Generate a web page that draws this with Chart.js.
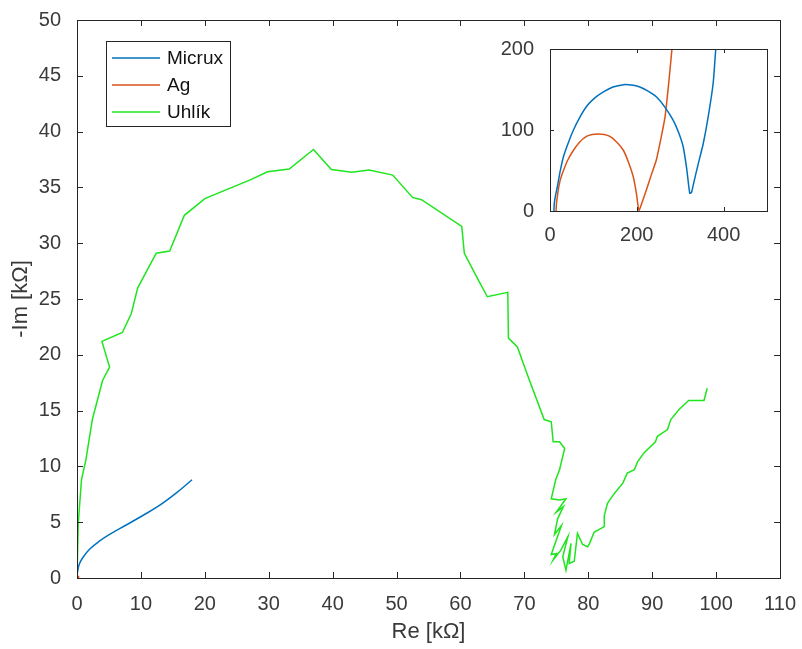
<!DOCTYPE html>
<html>
<head>
<meta charset="utf-8">
<script src="https://cdn.jsdelivr.net/npm/chart.js@4.4.0/dist/chart.umd.min.js"></script>
<style>
  body { margin: 0; background: #fff; }
  #wrap { position: relative; width: 802px; height: 649px; }
  #mainChart { position: absolute; left: 0; top: 0; }
  #insetChart { position: absolute; left: 490px; top: 20px; }
</style>
</head>
<body>
<div id="wrap">
  <canvas id="mainChart" width="802" height="649"></canvas>
  <canvas id="insetChart" width="300" height="230"></canvas>
</div>
<script>
// main plot, kOhm
var micruxRe = [0, 0.1, 0.4, 1.0, 2.0, 3.5, 5.1, 7.7, 10.3, 12.9, 15.5, 18.0];
var micruxIm = [0, 0.6, 1.3, 1.9, 2.6, 3.3, 3.9, 4.75, 5.6, 6.5, 7.6, 8.8];
var agRe = [0.014, 0.03, 0.08, 0.14, 0.19, 0.205, 0.25, 0.28];
var agIm = [0, 0.06, 0.09, 0.09, 0.04, 0, 0.08, 0.2];
var uhlikRe = [0, 0.2, 0.7, 1.4, 2.4, 4.0, 5.1, 3.9, 7.1, 8.5, 9.5, 12.4, 14.5, 16.8, 20.0, 27.2,
  29.8, 33.2, 37.0, 39.8, 43.0, 45.7, 49.4, 52.5, 53.9, 60.2, 60.6, 62.8, 64.2, 67.4, 67.5, 68.9,
  70.8, 73.1, 74.2, 74.5, 75.5, 76.3, 75.5, 74.9, 74.2, 75.5, 76.5, 75.0, 76.1, 75.2, 74.7, 75.8,
  74.2, 75.0, 74.5, 75.7, 76.8, 76.0, 76.5, 77.3, 77.0, 77.8, 78.3, 79.1, 79.9, 80.2, 80.9, 82.5,
  82.5, 83.0, 84.1, 85.4, 86.1, 87.2, 87.7, 88.7, 90.5, 90.8, 92.4, 92.9, 94.2, 95.7, 98.1, 98.6];
var uhlikIm = [0, 4.9, 8.8, 10.6, 14.2, 17.7, 18.9, 21.2, 22.0, 23.7, 26.0, 29.1, 29.3, 32.5, 34.0, 35.7,
  36.4, 36.65, 38.4, 36.6, 36.35, 36.55, 36.1, 34.1, 33.9, 31.5, 29.1, 26.7, 25.2, 25.6, 21.5, 20.7,
  17.7, 14.2, 14.0, 12.2, 12.2, 11.6, 9.7, 8.8, 7.1, 7.0, 7.1, 5.9, 6.4, 5.3, 3.9, 4.7,
  2.1, 2.2, 1.6, 2.5, 3.7, 1.9, 0.7, 3.1, 1.3, 1.5, 4.0, 3.0, 2.8, 3.1, 4.1, 4.6,
  5.6, 6.7, 7.6, 8.5, 9.4, 9.7, 10.4, 11.2, 12.2, 12.7, 13.3, 14.2, 15.1, 15.9, 15.9, 17.0];

// inset plot
var micruxInsetRe = [9, 10, 13, 17, 23, 31, 42, 54, 68, 84, 102, 123, 145, 169, 188, 207, 226, 245, 265, 284, 297, 307, 315, 322, 326, 330, 341, 353, 365, 376, 382, 392];
var micruxInsetIm = [0, 10, 20, 30, 48, 67, 84, 100, 115, 129, 139, 147, 153, 156, 155.5, 153, 148, 141, 128, 112, 96, 79, 52, 22, 23, 32, 57, 83, 118, 158, 200, 250];
var agInsetRe = [14, 15, 17, 19, 24, 31, 41, 54, 68, 84, 97, 111, 125, 138, 154, 169, 181, 192, 199, 205, 213, 222, 233, 245, 255, 265, 273, 281, 290];
var agInsetIm = [0, 10, 18, 26, 39, 50, 63, 75, 85, 92, 94.5, 95, 94.5, 92, 85, 75, 60, 42, 22, 1, 12, 26, 44, 63, 88, 116, 155, 200, 250];

var xTicksMain = [0, 10, 20, 30, 40, 50, 60, 70, 80, 90, 100, 110];
var yTicksMain = [0, 5, 10, 15, 20, 25, 30, 35, 40, 45, 50];

var BLUE = '#0072BD', RED = '#D95319', GREEN = '#1fe51f', AXIS = '#262626';

function pts(xs, ys) {
    return xs.map(function (x, i) { return { x: x, y: ys[i] }; });
}

Chart.defaults.font.family = '"Liberation Sans", Arial, sans-serif';
Chart.defaults.color = '#3a3a3a';
Chart.defaults.animation = false;

// box round the chart area plus inward ticks on all four sides
var boxTicks = {
    id: 'boxTicks',
    afterDraw: function (chart, args, opts) {
        var a = chart.chartArea, ctx = chart.ctx, len = opts.len || 6;
        var xs = chart.scales.x, ys = chart.scales.y;
        ctx.save();
        ctx.strokeStyle = AXIS;
        ctx.lineWidth = 1;
        ctx.beginPath();
        xs.ticks.forEach(function (t) {
            var px = Math.round(xs.getPixelForValue(t.value)) + 0.5;
            ctx.moveTo(px, a.bottom); ctx.lineTo(px, a.bottom - len);
            ctx.moveTo(px, a.top); ctx.lineTo(px, a.top + len);
        });
        ys.ticks.forEach(function (t) {
            var py = Math.round(ys.getPixelForValue(t.value)) + 0.5;
            ctx.moveTo(a.left, py); ctx.lineTo(a.left + len, py);
            ctx.moveTo(a.right, py); ctx.lineTo(a.right - len, py);
        });
        ctx.stroke();
        ctx.strokeRect(Math.round(a.left) + 0.5, Math.round(a.top) + 0.5,
            Math.round(a.right - a.left), Math.round(a.bottom - a.top));
        ctx.restore();
    }
};

// legend box inside the axes, upper left
var boxLegend = {
    id: 'boxLegend',
    afterDraw: function (chart) {
        var ctx = chart.ctx;
        var x0 = 106, y0 = 41, w = 124, h = 85, rowH = 27;
        ctx.save();
        ctx.fillStyle = '#fff';
        ctx.fillRect(x0, y0, w, h);
        ctx.strokeStyle = AXIS;
        ctx.lineWidth = 1;
        ctx.strokeRect(x0 + 0.5, y0 + 0.5, w, h);
        ctx.font = '19px "Liberation Sans", Arial, sans-serif';
        ctx.textBaseline = 'middle';
        chart.data.datasets.forEach(function (ds, i) {
            var cy = y0 + 17 + i * rowH;
            ctx.strokeStyle = ds.borderColor;
            ctx.lineWidth = 1.5;
            ctx.beginPath();
            ctx.moveTo(x0 + 6, cy); ctx.lineTo(x0 + 54, cy);
            ctx.stroke();
            ctx.fillStyle = '#111';
            ctx.fillText(ds.label, x0 + 61, cy + 1);
        });
        ctx.restore();
    }
};

function lineSet(label, color, data, tension) {
    return {
        label: label,
        data: data,
        borderColor: color,
        backgroundColor: color,
        borderWidth: 1.5,
        showLine: true,
        pointRadius: 0,
        tension: tension || 0
    };
}

new Chart(document.getElementById('mainChart').getContext('2d'), {
    type: 'scatter',
    data: {
        datasets: [
            lineSet('Micrux', BLUE, pts(micruxRe, micruxIm), 0.4),
            lineSet('Ag', RED, pts(agRe, agIm)),
            lineSet('Uhlík', GREEN, pts(uhlikRe, uhlikIm))
        ]
    },
    options: {
        responsive: false,
        layout: { padding: { top: 20, right: 19, left: 0, bottom: 0 } },
        scales: {
            x: {
                type: 'linear', min: 0, max: 110,
                afterFit: function (s) { s.height = 71; },
                afterBuildTicks: function (s) { s.ticks = xTicksMain.map(function (v) { return { value: v }; }); },
                grid: { display: false },
                border: { display: false },
                ticks: { font: { size: 20 }, padding: 6, maxRotation: 0, autoSkip: false },
                title: { display: true, text: 'Re [kΩ]', font: { size: 22 }, padding: { top: 0 } }
            },
            y: {
                type: 'linear', min: 0, max: 50,
                afterFit: function (s) { s.width = 77; },
                afterBuildTicks: function (s) { s.ticks = yTicksMain.map(function (v) { return { value: v }; }); },
                grid: { display: false },
                border: { display: false },
                ticks: { font: { size: 20 }, padding: 8, autoSkip: false },
                title: { display: true, text: '-Im [kΩ]', font: { size: 22 }, padding: { top: 8, bottom: 0 } }
            }
        },
        plugins: {
            legend: { display: false },
            tooltip: { enabled: false },
            boxTicks: { len: 6 }
        }
    },
    plugins: [boxTicks, boxLegend]
});

var insetBg = {
    id: 'insetBg',
    beforeDraw: function (chart) {
        var a = chart.chartArea;
        chart.ctx.save();
        chart.ctx.fillStyle = '#fff';
        chart.ctx.fillRect(a.left, a.top, a.right - a.left, a.bottom - a.top);
        chart.ctx.restore();
    }
};

new Chart(document.getElementById('insetChart').getContext('2d'), {
    type: 'scatter',
    data: {
        datasets: [
            lineSet('Micrux', BLUE, pts(micruxInsetRe, micruxInsetIm), 0.2),
            lineSet('Ag', RED, pts(agInsetRe, agInsetIm), 0.2)
        ]
    },
    options: {
        responsive: false,
        layout: { padding: { top: 29, right: 23, left: 0, bottom: 0 } },
        scales: {
            x: {
                type: 'linear', min: 0, max: 500,
                afterFit: function (s) { s.height = 39; },
                grid: { display: false },
                border: { display: false },
                ticks: { stepSize: 200, includeBounds: false, font: { size: 20 }, padding: 4, maxRotation: 0 }
            },
            y: {
                type: 'linear', min: 0, max: 200,
                afterFit: function (s) { s.width = 60; },
                grid: { display: false },
                border: { display: false },
                ticks: { stepSize: 100, font: { size: 20 }, padding: 8 }
            }
        },
        plugins: {
            legend: { display: false },
            tooltip: { enabled: false },
            boxTicks: { len: 4 }
        }
    },
    plugins: [insetBg, boxTicks]
});
</script>
</body>
</html>
